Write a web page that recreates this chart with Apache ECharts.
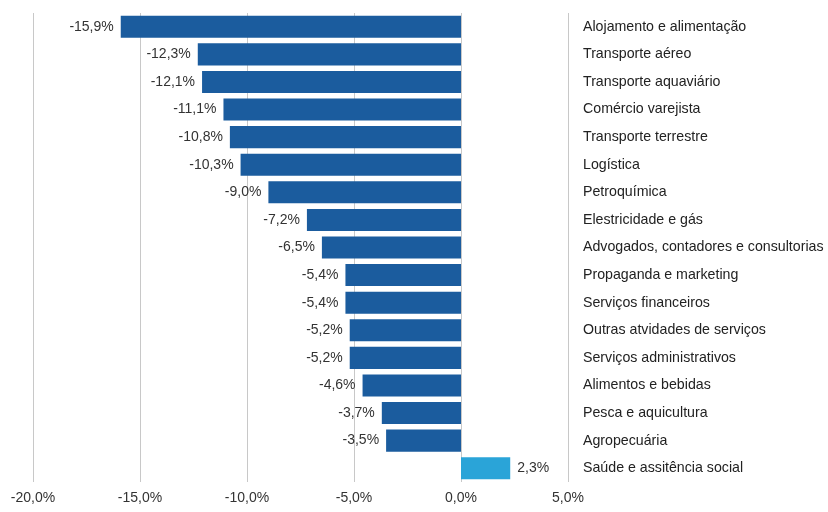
<!DOCTYPE html>
<html>
<head>
<meta charset="utf-8">
<script src="https://cdn.jsdelivr.net/npm/echarts@6/dist/echarts.min.js"></script>
<style>
  html, body { margin: 0; padding: 0; background: #fff; }
  #chart { width: 828px; height: 512px; }
</style>
</head>
<body>
<div id="chart"></div>
<script>
// setores, de cima para baixo
var categories = [
  'Alojamento e alimentação', 'Transporte aéreo', 'Transporte aquaviário',
  'Comércio varejista', 'Transporte terrestre', 'Logística', 'Petroquímica',
  'Elestricidade e gás', 'Advogados, contadores e consultorias',
  'Propaganda e marketing', 'Serviços financeiros', 'Outras atvidades de serviços',
  'Serviços administrativos', 'Alimentos e bebidas', 'Pesca e aquicultura',
  'Agropecuária', 'Saúde e assitência social'
]
var values = [-15.9, -12.3, -12.1, -11.1, -10.8, -10.3, -9.0, -7.2, -6.5, -5.4, -5.4, -5.2, -5.2, -4.6, -3.7, -3.5, 2.3]

var fmt = function (v, d) {
  return v.toFixed(d).replace('.', ',') + '%'
}

var chart = echarts.init(document.getElementById('chart'))

chart.setOption({
  animation: false,
  textStyle: { fontFamily: 'Liberation Sans, Arial, sans-serif' },
  grid: { left: 33, right: 260, top: 13, bottom: 30, containLabel: false, outerBoundsMode: 'none' },
  xAxis: {
    type: 'value',
    min: -20,
    max: 5,
    interval: 5,
    axisLine: { show: false },
    axisTick: { show: false },
    splitLine: { lineStyle: { color: '#c8c8c8', width: 1 } },
    axisLabel: {
      color: '#333',
      fontSize: 14,
      margin: 9,
      formatter: function (v) { return fmt(v, 1) }
    }
  },
  yAxis: {
    type: 'category',
    data: categories,
    inverse: true,
    position: 'right',
    axisLine: { show: false },
    axisTick: { show: false },
    axisLabel: {
      color: '#222',
      fontSize: 14.2,
      margin: 15,
      align: 'left'
    }
  },
  series: [{
    type: 'bar',
    barCategoryGap: '20%',
    data: values.map(function (v) {
      return {
        value: v,
        itemStyle: { color: v < 0 ? '#1b5c9e' : '#2aa4d8' },
        label: { position: v < 0 ? 'left' : 'right' }
      }
    }),
    label: {
      show: true,
      color: '#333',
      fontSize: 14,
      distance: 7,
      formatter: function (p) { return fmt(p.value, 1) }
    }
  }]
})
</script>
</body>
</html>
